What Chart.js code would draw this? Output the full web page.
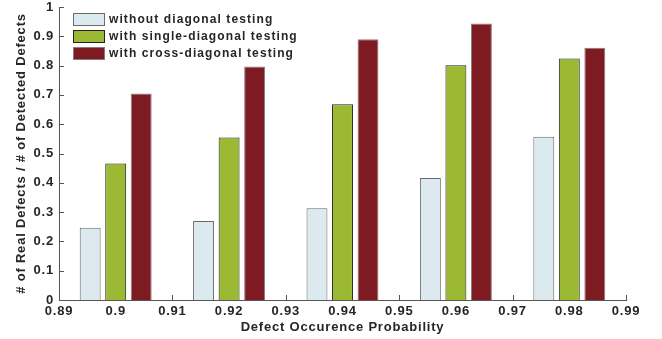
<!DOCTYPE html>
<html>
<head>
<meta charset="utf-8">
<script src="https://cdn.jsdelivr.net/npm/chart.js@4.4.0/dist/chart.umd.min.js"></script>
<style>
  html, body { margin: 0; padding: 0; background: #ffffff; }
  #wrap { width: 662px; height: 339px; }
</style>
</head>
<body>
<div id="wrap"><canvas id="chart" width="662" height="339"></canvas></div>
<script>
// Defect occurrence probabilities (group positions on the x axis)
const probabilities = [0.90, 0.92, 0.94, 0.96, 0.98];

// Ratio of real defects to detected defects for each testing scheme
const withoutDiagonal = [0.247, 0.270, 0.313, 0.416, 0.557];
const singleDiagonal  = [0.466, 0.555, 0.668, 0.801, 0.824];
const crossDiagonal   = [0.705, 0.797, 0.890, 0.944, 0.861];

const seriesNames = [
  'without diagonal testing',
  'with single-diagonal testing',
  'with cross-diagonal testing'
];

const xTickValues = [0.89, 0.90, 0.91, 0.92, 0.93, 0.94, 0.95, 0.96, 0.97, 0.98, 0.99];
const yTickValues = [0, 0.1, 0.2, 0.3, 0.4, 0.5, 0.6, 0.7, 0.8, 0.9, 1];

const TEXT = '#262626';
const FONT_FAMILY = "'Liberation Sans', Arial, Helvetica, sans-serif";

function points(values) {
  return probabilities.map((p, i) => ({ x: p, y: values[i] }));
}
function fmt(v) {
  return String(Number(v.toFixed(2)));
}

// Slightly looser letter spacing for all axis text
const textSpacing = {
  id: 'textSpacing',
  beforeDraw(chart) {
    chart.ctx.letterSpacing = '0.8px';
  }
};

// Short tick marks pointing into the plot area
const inwardTicks = {
  id: 'inwardTicks',
  beforeDatasetsDraw(chart) {
    const { ctx, chartArea, scales } = chart;
    ctx.save();
    ctx.strokeStyle = '#555555';
    ctx.lineWidth = 1;
    ctx.beginPath();
    scales.x.ticks.forEach(t => {
      const px = Math.round(scales.x.getPixelForValue(t.value)) + 0.5;
      ctx.moveTo(px, chartArea.bottom);
      ctx.lineTo(px, chartArea.bottom - 5);
    });
    scales.y.ticks.forEach(t => {
      const py = Math.round(scales.y.getPixelForValue(t.value)) + 0.5;
      ctx.moveTo(chartArea.left, py);
      ctx.lineTo(chartArea.left + 5, py);
    });
    ctx.stroke();
    ctx.restore();
  }
};

// Legend drawn inside the upper-left corner of the plot area
const boxLegend = {
  id: 'boxLegend',
  afterDraw(chart) {
    const { ctx, chartArea } = chart;
    const x0 = chartArea.left + 14;
    const y0 = chartArea.top + 6;
    const pitch = 17;
    ctx.save();
    ctx.letterSpacing = '1.1px';
    ctx.font = 'bold 12px ' + FONT_FAMILY;
    ctx.textBaseline = 'middle';
    ctx.textAlign = 'left';
    chart.data.datasets.forEach((ds, i) => {
      const y = y0 + i * pitch;
      ctx.fillStyle = ds.backgroundColor;
      ctx.fillRect(x0, y, 32, 13);
      ctx.strokeStyle = ds.borderColor;
      ctx.lineWidth = 1;
      ctx.strokeRect(x0 + 0.5, y + 0.5, 31, 12);
      ctx.fillStyle = TEXT;
      ctx.fillText(ds.label, x0 + 36, y + 7);
    });
    ctx.restore();
  }
};

new Chart(document.getElementById('chart'), {
  type: 'bar',
  data: {
    datasets: [
      {
        label: seriesNames[0],
        data: points(withoutDiagonal),
        backgroundColor: '#dceaef',
        borderColor: '#6a6a6a',
        borderWidth: 1
      },
      {
        label: seriesNames[1],
        data: points(singleDiagonal),
        backgroundColor: '#9bb932',
        borderColor: '#222222',
        borderWidth: 1
      },
      {
        label: seriesNames[2],
        data: points(crossDiagonal),
        backgroundColor: '#7e1a22',
        borderColor: '#8a7a7c',
        borderWidth: 1
      }
    ]
  },
  options: {
    responsive: false,
    animation: false,
    categoryPercentage: 1.35,
    barPercentage: 0.82,
    layout: { padding: { top: 7, right: 36, left: 0, bottom: 0 } },
    plugins: {
      legend: { display: false },
      tooltip: { enabled: false }
    },
    scales: {
      x: {
        type: 'linear',
        min: 0.89,
        max: 0.99,
        offset: false,
        afterBuildTicks(scale) { scale.ticks = xTickValues.map(v => ({ value: v })); },
        afterFit(scale) { scale.height = 39; },
        grid: { display: false, drawTicks: false },
        border: { display: true, color: '#555555', width: 1 },
        ticks: {
          padding: 4,
          color: TEXT,
          font: { family: FONT_FAMILY, size: 13, weight: 'bold' },
          maxRotation: 0,
          autoSkip: false,
          callback: v => fmt(v)
        },
        title: {
          display: true,
          text: 'Defect Occurence Probability',
          color: TEXT,
          font: { family: FONT_FAMILY, size: 13, weight: 'bold' },
          padding: { top: 0, bottom: 4 }
        }
      },
      y: {
        min: 0,
        max: 1,
        afterBuildTicks(scale) { scale.ticks = yTickValues.map(v => ({ value: v })); },
        afterFit(scale) {
          scale.width = 59;
          scale.paddingTop = 7;
          scale.paddingBottom = 0;
        },
        grid: { display: false, drawTicks: false },
        border: { display: true, color: '#555555', width: 1 },
        ticks: {
          padding: 5,
          color: TEXT,
          font: { family: FONT_FAMILY, size: 13, weight: 'bold' },
          callback: v => fmt(v)
        },
        title: {
          display: true,
          text: '# of Real Defects / # of Detected Defects',
          color: TEXT,
          font: { family: FONT_FAMILY, size: 13, weight: 'bold' },
          padding: { top: 14, bottom: 0 }
        }
      }
    }
  },
  plugins: [textSpacing, inwardTicks, boxLegend]
});
</script>
</body>
</html>
